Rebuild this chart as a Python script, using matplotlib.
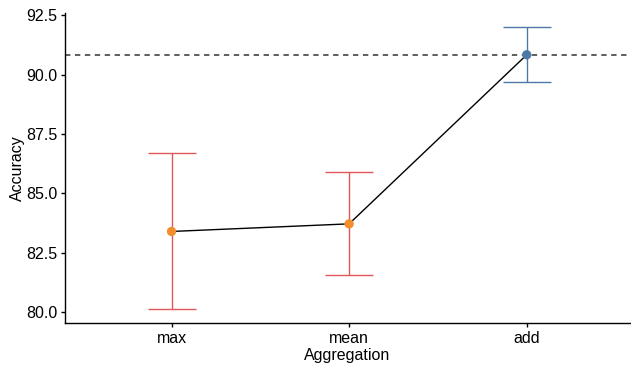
import numpy as np
import matplotlib.pyplot as plt

plt.rcParams['font.family'] = ['Liberation Sans', 'DejaVu Sans']

# data
aggregation = ['max', 'mean', 'add']
accuracy = [83.40, 83.72, 90.83]
err_low = [80.13, 81.57, 89.67]
err_high = [86.72, 85.88, 91.98]
point_colors = ['#F28E2B', '#F28E2B', '#4E79A7']
bar_colors = ['#E15759', '#E15759', '#4E79A7']
reference_acc = 90.83

fig = plt.figure(figsize=(6.31, 3.73), dpi=100)
ax = fig.add_axes([0.103, 0.134, 0.895, 0.832])

x = np.arange(1, len(aggregation) + 1)

ax.axhline(reference_acc, color='#333333', lw=1.1, ls=(0, (3.5, 3)), zorder=1)

# error bars per group
for xi, lo, hi, c in zip(x, err_low, err_high, bar_colors):
    ax.errorbar([xi], [(lo + hi) / 2], yerr=[[(hi - lo) / 2], [(hi - lo) / 2]],
                fmt='none', ecolor=c, elinewidth=1.0, capsize=17.5, capthick=1.0, zorder=2)

ax.plot(x, accuracy, color='black', lw=1.0, zorder=3)
ax.scatter(x, accuracy, c=point_colors, s=45, zorder=4, edgecolors='none')

ax.set_xlim(0.4, 3.58)
ax.set_ylim(79.55, 92.6)
ax.set_xticks(x)
ax.set_xticklabels(aggregation)
ax.set_yticks([80.0, 82.5, 85.0, 87.5, 90.0, 92.5])
ax.set_yticklabels(['80.0', '82.5', '85.0', '87.5', '90.0', '92.5'])

for s in ['top', 'right']:
    ax.spines[s].set_visible(False)
for s in ['left', 'bottom']:
    ax.spines[s].set_linewidth(1.0)
ax.tick_params(axis='both', labelsize=11.5, length=3, width=1.0, colors='black', pad=2.5)
ax.set_xlabel('Aggregation', fontsize=11.5, labelpad=2)
ax.set_ylabel('Accuracy', fontsize=11.5, labelpad=0.5)

fig.savefig('out.png', dpi=100)
